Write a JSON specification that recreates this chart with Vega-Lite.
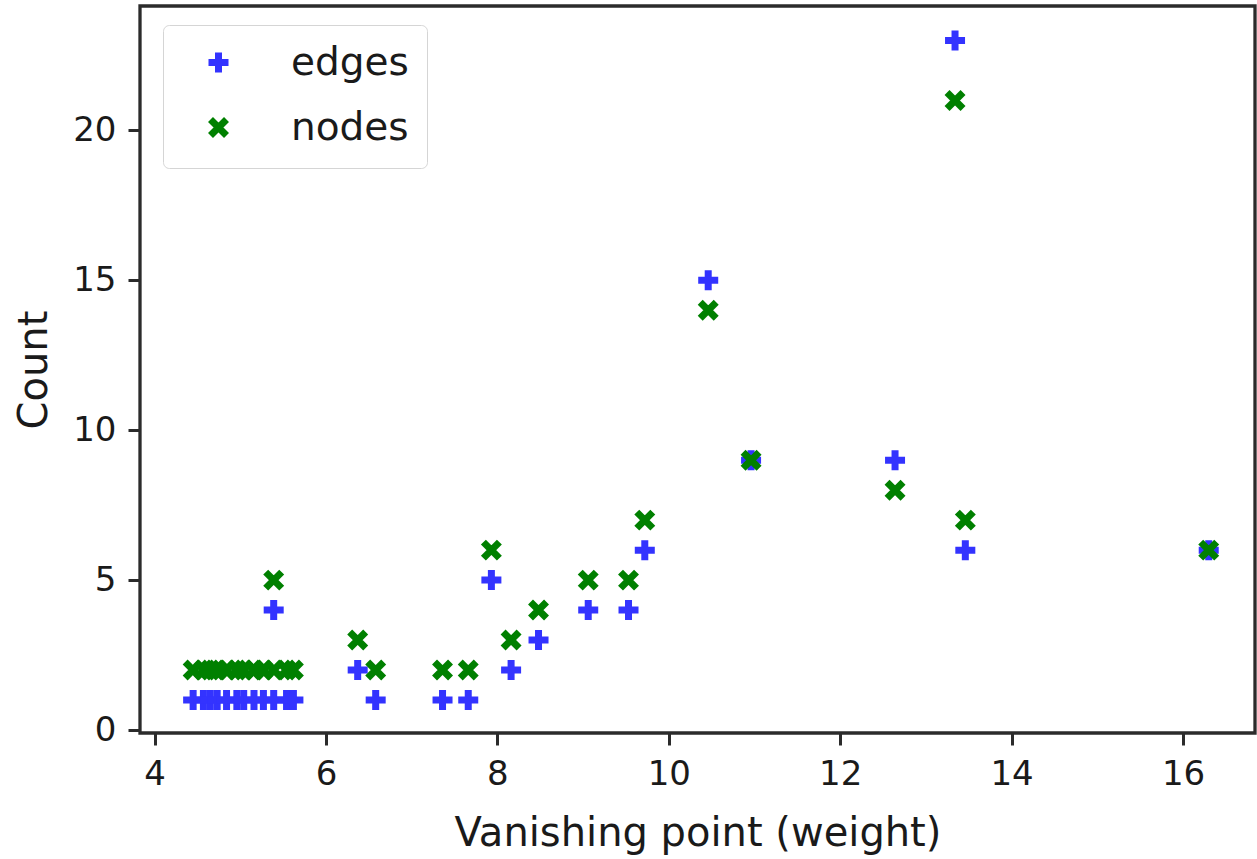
{
  "$schema": "https://vega.github.io/schema/vega-lite/v6.json",
  "width": 1115,
  "height": 727,
  "autosize": {"type": "none"},
  "padding": {"left": 140, "top": 6, "right": 2, "bottom": 126},
  "background": "white",
  "config": {
    "view": {"stroke": "#2b2b2b", "strokeWidth": 3.3},
    "font": "DejaVu Sans",
    "axis": {
      "domain": false,
      "grid": false,
      "tickColor": "#2b2b2b",
      "tickWidth": 3,
      "tickSize": 12,
      "labelFont": "DejaVu Sans",
      "labelFontSize": 34,
      "labelColor": "#1a1a1a",
      "titleFont": "DejaVu Sans",
      "titleFontSize": 40,
      "titleFontWeight": "normal",
      "titleColor": "#1a1a1a"
    }
  },
  "data": {
    "values": [
      {"x": 4.45, "count": 1, "series": "edges"},
      {"x": 4.57, "count": 1, "series": "edges"},
      {"x": 4.65, "count": 1, "series": "edges"},
      {"x": 4.73, "count": 1, "series": "edges"},
      {"x": 4.84, "count": 1, "series": "edges"},
      {"x": 4.96, "count": 1, "series": "edges"},
      {"x": 5.04, "count": 1, "series": "edges"},
      {"x": 5.16, "count": 1, "series": "edges"},
      {"x": 5.27, "count": 1, "series": "edges"},
      {"x": 5.39, "count": 1, "series": "edges"},
      {"x": 5.54, "count": 1, "series": "edges"},
      {"x": 5.62, "count": 1, "series": "edges"},
      {"x": 5.39, "count": 4, "series": "edges"},
      {"x": 6.37, "count": 2, "series": "edges"},
      {"x": 6.58, "count": 1, "series": "edges"},
      {"x": 7.36, "count": 1, "series": "edges"},
      {"x": 7.66, "count": 1, "series": "edges"},
      {"x": 7.93, "count": 5, "series": "edges"},
      {"x": 8.16, "count": 2, "series": "edges"},
      {"x": 8.48, "count": 3, "series": "edges"},
      {"x": 9.06, "count": 4, "series": "edges"},
      {"x": 9.53, "count": 4, "series": "edges"},
      {"x": 9.72, "count": 6, "series": "edges"},
      {"x": 10.46, "count": 15, "series": "edges"},
      {"x": 10.96, "count": 9, "series": "edges"},
      {"x": 12.64, "count": 9, "series": "edges"},
      {"x": 13.34, "count": 23, "series": "edges"},
      {"x": 13.46, "count": 6, "series": "edges"},
      {"x": 16.3, "count": 6, "series": "edges"},
      {"x": 4.45, "count": 2, "series": "nodes"},
      {"x": 4.57, "count": 2, "series": "nodes"},
      {"x": 4.65, "count": 2, "series": "nodes"},
      {"x": 4.73, "count": 2, "series": "nodes"},
      {"x": 4.84, "count": 2, "series": "nodes"},
      {"x": 4.96, "count": 2, "series": "nodes"},
      {"x": 5.04, "count": 2, "series": "nodes"},
      {"x": 5.16, "count": 2, "series": "nodes"},
      {"x": 5.27, "count": 2, "series": "nodes"},
      {"x": 5.39, "count": 2, "series": "nodes"},
      {"x": 5.54, "count": 2, "series": "nodes"},
      {"x": 5.62, "count": 2, "series": "nodes"},
      {"x": 5.39, "count": 5, "series": "nodes"},
      {"x": 6.37, "count": 3, "series": "nodes"},
      {"x": 6.58, "count": 2, "series": "nodes"},
      {"x": 7.36, "count": 2, "series": "nodes"},
      {"x": 7.66, "count": 2, "series": "nodes"},
      {"x": 7.93, "count": 6, "series": "nodes"},
      {"x": 8.16, "count": 3, "series": "nodes"},
      {"x": 8.48, "count": 4, "series": "nodes"},
      {"x": 9.06, "count": 5, "series": "nodes"},
      {"x": 9.53, "count": 5, "series": "nodes"},
      {"x": 9.72, "count": 7, "series": "nodes"},
      {"x": 10.46, "count": 14, "series": "nodes"},
      {"x": 10.96, "count": 9, "series": "nodes"},
      {"x": 12.64, "count": 8, "series": "nodes"},
      {"x": 13.34, "count": 21, "series": "nodes"},
      {"x": 13.46, "count": 7, "series": "nodes"},
      {"x": 16.3, "count": 6, "series": "nodes"}
    ]
  },
  "mark": {"type": "point", "filled": false, "strokeWidth": 7, "size": 400, "opacity": 1},
  "encoding": {
    "x": {
      "field": "x",
      "type": "quantitative",
      "scale": {"domain": [3.83, 16.84], "nice": false, "zero": false},
      "axis": {"values": [4, 6, 8, 10, 12, 14, 16], "title": "Vanishing point (weight)", "labelPadding": 12, "titlePadding": 22}
    },
    "y": {
      "field": "count",
      "type": "quantitative",
      "scale": {"domain": [-0.1, 24.15], "nice": false, "zero": false},
      "axis": {"values": [0, 5, 10, 15, 20], "title": "Count", "labelPadding": 12, "titlePadding": 18}
    },
    "color": {
      "field": "series",
      "type": "nominal",
      "scale": {"domain": ["edges", "nodes"], "range": ["#3333ff", "#008000"]},
      "legend": {
        "title": null,
        "orient": "none",
        "legendX": 23,
        "legendY": 19,
        "padding": 18,
        "strokeColor": "#d5d5d5",
        "fillColor": "white",
        "cornerRadius": 6,
        "labelFont": "DejaVu Sans",
        "labelFontSize": 39,
        "labelColor": "#1a1a1a",
        "symbolSize": 400,
        "symbolStrokeWidth": 7,
        "symbolOffset": 18,
        "labelOffset": 53,
        "rowPadding": 18
      }
    },
    "shape": {
      "field": "series",
      "type": "nominal",
      "scale": {"domain": ["edges", "nodes"], "range": ["M-1,0L1,0M0,-1L0,1", "M-0.8,-0.8L0.8,0.8M-0.8,0.8L0.8,-0.8"]}
    }
  }
}
